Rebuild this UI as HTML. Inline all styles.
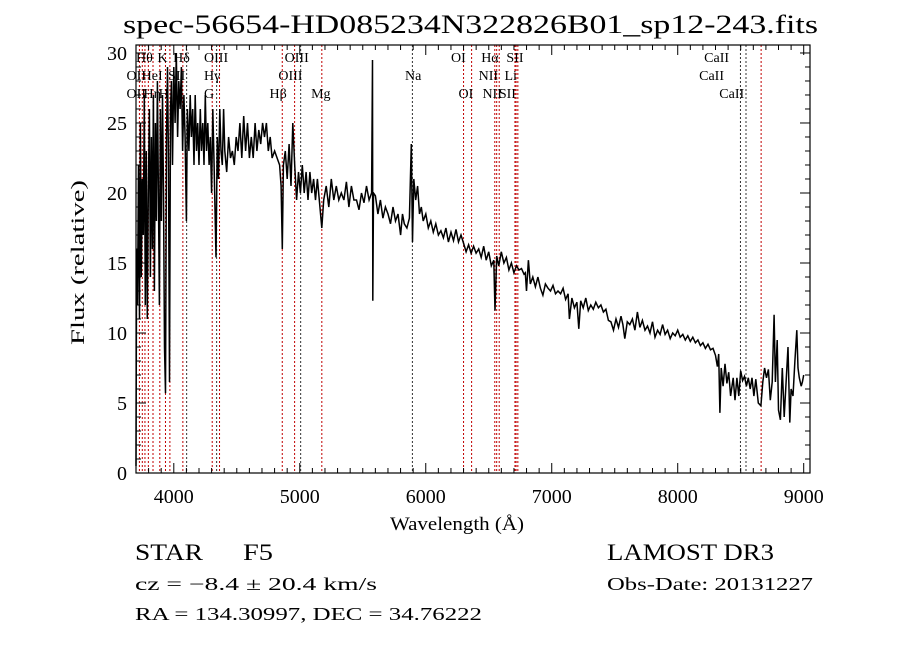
<!DOCTYPE html>
<html><head><meta charset="utf-8"><style>
body{margin:0;background:#fff;}
svg{display:block;font-family:"Liberation Serif",serif;}
</style></head><body>
<svg id="chart" width="900" height="649" viewBox="0 0 900 649" xmlns="http://www.w3.org/2000/svg">
<rect x="0" y="0" width="900" height="649" fill="#fff"/>
<text x="123" y="33" font-size="26" textLength="695" lengthAdjust="spacingAndGlyphs">spec-56654-HD085234N322826B01_sp12-243.fits</text>
<g id="lines"></g>
<g id="labels" font-size="14"></g>
<g id="ticks"></g>
<path id="spec" fill="none" stroke="#000" stroke-width="1.5"/>
<rect x="136" y="45" width="674" height="428" fill="none" stroke="#000" stroke-width="1.2"/>
<g id="tlabels" font-size="20"></g>
<text x="390" y="530" font-size="19" textLength="134" lengthAdjust="spacingAndGlyphs">Wavelength (Å)</text>
<text transform="translate(84,345) rotate(-90)" font-size="19" textLength="165" lengthAdjust="spacingAndGlyphs">Flux (relative)</text>
<text x="135" y="560" font-size="23" textLength="68" lengthAdjust="spacingAndGlyphs">STAR</text>
<text x="243" y="560" font-size="23" textLength="30" lengthAdjust="spacingAndGlyphs">F5</text>
<text x="607" y="560" font-size="23" textLength="167" lengthAdjust="spacingAndGlyphs">LAMOST DR3</text>
<text x="135" y="590" font-size="18" textLength="242" lengthAdjust="spacingAndGlyphs">cz = −8.4 ± 20.4 km/s</text>
<text x="607" y="590" font-size="18" textLength="206" lengthAdjust="spacingAndGlyphs">Obs-Date: 20131227</text>
<text x="135" y="620" font-size="18" textLength="347" lengthAdjust="spacingAndGlyphs">RA = 134.30997, DEC =  34.76222</text>
</svg>
<script>
const waves=[3700,3705,3712,3720,3728,3735,3742,3750,3758,3766,3774,3782,3790,3798,3806,3814,3822,3830,3838,3846,3854,3862,3870,3878,3886,3894,3902,3910,3918,3926,3934,3942,3950,3958,3966,3974,3982,3990,4000,4010,4020,4030,4040,4050,4060,4070,4080,4090,4100,4108,4120,4130,4140,4150,4160,4170,4180,4190,4200,4210,4220,4230,4240,4250,4260,4270,4280,4290,4300,4310,4320,4335,4345,4355,4365,4375,4385,4395,4405,4420,4435,4450,4465,4480,4495,4510,4525,4540,4555,4570,4585,4600,4615,4630,4645,4660,4675,4690,4705,4720,4735,4750,4765,4780,4800,4820,4840,4852,4861,4870,4885,4900,4915,4930,4945,4960,4975,4990,5005,5020,5035,5050,5065,5080,5095,5110,5125,5140,5155,5175,5190,5210,5230,5250,5270,5290,5310,5330,5350,5370,5390,5410,5430,5450,5470,5490,5510,5530,5550,5570,5577,5580,5585,5600,5620,5640,5660,5680,5700,5720,5740,5760,5780,5800,5815,5830,5850,5870,5885,5895,5905,5920,5935,5950,5965,5980,6000,6020,6040,6060,6080,6100,6120,6140,6160,6180,6200,6220,6240,6260,6280,6300,6320,6340,6360,6380,6400,6420,6440,6460,6480,6500,6520,6540,6550,6563,6580,6600,6620,6640,6660,6680,6700,6720,6740,6760,6780,6790,6800,6815,6830,6850,6870,6890,6910,6930,6950,6970,6990,7010,7030,7050,7070,7090,7110,7130,7140,7160,7180,7200,7215,7230,7250,7270,7290,7310,7330,7350,7370,7390,7410,7430,7450,7470,7490,7510,7530,7550,7565,7580,7600,7620,7640,7660,7680,7700,7720,7740,7760,7780,7800,7820,7840,7860,7880,7900,7920,7940,7960,7980,8000,8020,8040,8060,8080,8100,8120,8140,8160,8180,8200,8220,8240,8260,8280,8300,8315,8325,8335,8345,8360,8375,8390,8405,8420,8440,8455,8470,8485,8500,8515,8530,8545,8560,8575,8590,8605,8620,8640,8660,8675,8690,8705,8720,8735,8750,8765,8775,8790,8800,8815,8830,8845,8860,8875,8890,8900,8915,8930,8945,8955,8965,8980,8990,9000];
const flux=[0.5,16,12,22,11,25,14,21,17,27,12,23,11,20,26,14,24,16,27,13,25,18,28,20,12,26,18,27,20,9,5.7,24,29,22,6.5,26,28,22,29,25,30,24,28,26,29,23,27,24,18,26,23,27,24,26,22,27,23,25,22,26,23,25,22,27,23,25,22,24,20,26,22,15.4,24,21,26,23,22,26,23,21.5,24,22.5,23,22,24,23,25,22.5,25.5,23,25,22.5,24,22.5,25,23,24.5,23.5,25,24,25,23,24,22.5,23,22.5,22,20.5,16,22,23,21,23.5,20.5,25,22,19.5,21.5,20,22,20,21.5,19.5,21.5,20,21,19.5,21,19.5,17.5,19.5,20.5,19,21,19.5,20.5,19.5,20,19.5,20.8,19,20.5,19.5,19.5,18.8,20,19.3,20.5,19.5,20,29.5,12.3,20,19.8,18.5,19.5,18.2,19,18.5,17.8,19,18,18.5,17,18.5,17.8,17.5,18.2,23.5,16.5,21,19.5,20.5,18.5,19,18,18.5,17.5,18,17.2,17.8,17,17.3,16.8,17.5,16.5,17.2,16.6,17.4,16.5,17,16.4,15.8,16.3,15.7,16.2,15.7,16,15.4,16.2,15.2,15.8,14.8,15.2,11.6,15.5,14.8,15.8,15,15.4,14.5,15,14.3,14.8,14.5,14.6,14.2,14.3,13,15.2,13.5,14,13.3,14,13.2,12.7,13.5,13.2,13,13.4,12.8,13,12.8,13.2,12.4,12.8,11,12.5,11.8,12.2,10.3,12.3,11.8,12.5,11.6,12,11.7,12.2,11.8,12,11.5,11.7,10.9,10.8,10.2,11,10.4,11.2,10.6,9.6,10.8,10.6,11,10.2,11.5,10.4,10.9,10.2,10.5,10,10.8,9.7,10.2,9.9,10.6,9.9,10.2,9.6,10,9.8,10.2,9.7,9.9,9.5,9.8,9.4,9.7,9.3,9.5,9.1,9.3,8.9,9.2,8.8,8.9,8.4,7.6,8.5,4.3,7.5,6.2,7.8,6.4,7.2,5.5,6.8,5.2,6.8,5.5,7.3,6.6,6.9,6.2,6.8,6,6.8,5.5,6.7,5,4.8,6.5,7.5,6.8,7.4,5.2,6.5,11.3,6.5,9.5,4.5,3.8,7.5,4,6.5,9,3.6,6,5.5,8,10.2,7.5,6.8,6.2,6.5,7];
const lineWaves=[3727,3750,3771,3798,3835,3889,3934,3969,4072,4102,4305,4340,4363,4861,4959,5007,5175,5894,6300,6364,6548,6563,6583,6708,6717,6731,8498,8542,8662];
const lineRed=[1,1,1,1,1,1,1,1,1,0,1,0,1,1,1,0,1,0,1,1,1,1,1,1,1,1,0,0,1];
const labelText=["Hθ","K","Hδ","OIII","OIII","OI","Hα","SII","CaII","OII","HeI","SII","Hγ","OIII","Na","NII","Li","CaII","OII","Hη","H","G","Hβ","Mg","OI","NII","SII","CaII"];
const labelWave=[3700,3870,3995,4240,4880,6200,6440,6640,8210,3625,3745,3955,4240,4830,5835,6420,6625,8170,3625,3760,3880,4240,4760,5090,6260,6450,6580,8330];
const labelRow=[0,0,0,0,0,0,0,0,0,1,1,1,1,1,1,1,1,1,2,2,2,2,2,2,2,2,2,2];
const xTicks=[4000,5000,6000,7000,8000,9000];
const yTicks=[0,5,10,15,20,25,30];
const X0=136,X1=810,Y0=473,Y1=45,WMIN=3700,WMAX=9050,FMIN=0,FMAX=30.57;
function xs(w){return X0+(w-WMIN)/(WMAX-WMIN)*(X1-X0);}
function ys(f){return Y0-(f-FMIN)/(FMAX-FMIN)*(Y0-Y1);}
const NS="http://www.w3.org/2000/svg";
function mk(tag,parent,attrs){const e=document.createElementNS(NS,tag);for(const k in attrs)e.setAttribute(k,attrs[k]);parent.appendChild(e);return e;}
let d="";
waves.forEach((w,i)=>{d+=(i?"L":"M")+xs(w).toFixed(1)+","+ys(flux[i]).toFixed(1);});
document.getElementById("spec").setAttribute("d",d);
const lg=document.getElementById("lines");
lineWaves.forEach((w,i)=>{
 const l=mk("line",lg,{x1:xs(w),x2:xs(w),y1:Y1,y2:Y0,stroke:lineRed[i]?"#c00000":"#333","stroke-width":1,"stroke-dasharray":"2,2"});
 
 
});
const lb=document.getElementById("labels");
const rowY=[62,80,98];
labelText.forEach((t,i)=>{
 const e=mk("text",lb,{x:xs(labelWave[i]),y:rowY[labelRow[i]]});
 e.textContent=t;
 
 
});
const tg=document.getElementById("ticks");
for(let w=3700;w<=9050;w+=100){
 const big=w%1000===0,len=big?10:5,x=xs(w);
 const t1=mk("line",tg,{x1:x,x2:x,y1:Y0,y2:Y0-len,stroke:"#000"});
 
 
 const t2=mk("line",tg,{x1:x,x2:x,y1:Y1,y2:Y1+len,stroke:"#000"});
 
 
}
for(let f=0;f<=30;f+=1){
 const big=f%5===0,len=big?10:5,y=ys(f);
 const t1=mk("line",tg,{x1:X0,x2:X0+len,y1:y,y2:y,stroke:"#000"});
 
 
 const t2=mk("line",tg,{x1:X1,x2:X1-len,y1:y,y2:y,stroke:"#000"});
 
 
}
const tl=document.getElementById("tlabels");
xTicks.forEach(v=>{
 const e=mk("text",tl,{x:xs(v),y:503,"text-anchor":"middle"});
 e.textContent=v;
 
 
});
yTicks.forEach(v=>{
 const e=mk("text",tl,{x:127,y:ys(v)+7,"text-anchor":"end"});
 e.textContent=v;
 
 
});
</script>
</body></html>
